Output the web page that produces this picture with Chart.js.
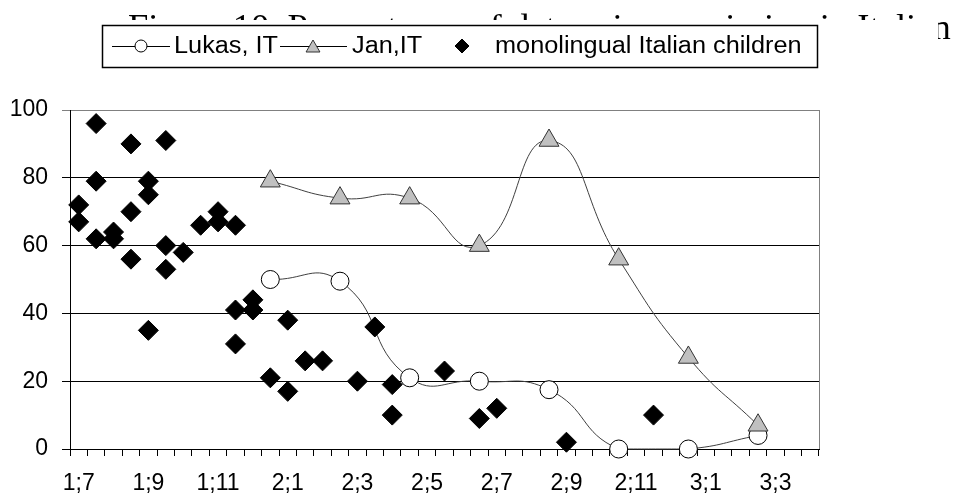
<!DOCTYPE html>
<html>
<head>
<meta charset="utf-8">
<script src="https://cdn.jsdelivr.net/npm/chart.js@4.4.0/dist/chart.umd.min.js"></script>
<style>
  html, body { margin: 0; padding: 0; background: #fff; }
  #wrap { width: 953px; height: 495px; position: relative; }
</style>
</head>
<body>
<div id="wrap"><canvas id="chart"></canvas></div>
<script>
// age categories, half-month steps (years;months)
const ageLabels = ['1;7', '1;7.5', '1;8', '1;8.5', '1;9', '1;9.5', '1;10', '1;10.5', '1;11', '1;11.5',
    '2;0', '2;0.5', '2;1', '2;1.5', '2;2', '2;2.5', '2;3', '2;3.5', '2;4', '2;4.5',
    '2;5', '2;5.5', '2;6', '2;6.5', '2;7', '2;7.5', '2;8', '2;8.5', '2;9', '2;9.5',
    '2;10', '2;10.5', '2;11', '2;11.5', '3;0', '3;0.5', '3;1', '3;1.5', '3;2', '3;2.5',
    '3;3', '3;3.5', '3;4'];

const titleText = 'Figure 10. Percentages of determiner omission in Italian';

const lukasAges = ['2;0.5', '2;2.5', '2;4.5', '2;6.5', '2;8.5', '2;10.5', '3;0.5', '3;2.5'];
const lukasPct = [50, 49.5, 21, 20, 17.5, 0, 0, 4];

const janAges = ['2;0.5', '2;2.5', '2;4.5', '2;6.5', '2;8.5', '2;10.5', '3;0.5', '3;2.5'];
const janPct = [79, 74, 74, 60, 91, 56, 27, 7];

const monoAges = ['1;7', '1;7', '1;7.5', '1;7.5', '1;7.5', '1;8', '1;8', '1;8.5', '1;8.5', '1;8.5',
    '1;9', '1;9', '1;9', '1;9.5', '1;9.5', '1;9.5', '1;10', '1;10.5', '1;11', '1;11',
    '1;11.5', '1;11.5', '1;11.5', '2;0', '2;0', '2;0.5', '2;1', '2;1', '2;1.5', '2;2',
    '2;3', '2;3.5', '2;4', '2;4', '2;5.5', '2;6.5', '2;7', '2;9', '2;11.5'];
const monoPct = [72, 67, 96, 79, 62, 64, 62, 90, 70, 56,
    79, 75, 35, 91, 60, 53, 58, 66, 70, 67,
    66, 41, 31, 44, 41, 21, 38, 17, 26, 26,
    20, 36, 19, 10, 23, 9, 12, 2, 10];

let toPoints = function (xs, ys) {
    let pts = [];
    for (let i = 0; i < xs.length; i++) {
        pts.push({ x: xs[i], y: ys[i] });
    }
    return pts;
}

// title behind the chart object, then the white chart background on top of it
const backdrop = {
    id: 'backdrop',
    beforeDraw(chart) {
        let ctx = chart.ctx;
        ctx.save();
        ctx.fillStyle = '#fff';
        ctx.fillRect(0, 0, chart.width, chart.height);
        ctx.fillStyle = '#000';
        ctx.font = '36.6px "Liberation Serif", "Times New Roman", serif';
        ctx.textBaseline = 'alphabetic';
        ctx.textAlign = 'left';
        ctx.fillText(titleText, 128, 39);
        ctx.fillStyle = '#fff';
        ctx.fillRect(0, 20, 938, chart.height - 20);
        ctx.restore();
    },
    afterDraw(chart) {
        let ctx = chart.ctx;
        let a = chart.chartArea;
        ctx.save();
        // gray plot border on the right
        ctx.strokeStyle = '#808080';
        ctx.lineWidth = 1;
        ctx.beginPath();
        ctx.moveTo(Math.round(a.right) + 0.5, a.top);
        ctx.lineTo(Math.round(a.right) + 0.5, a.bottom);
        ctx.stroke();
        ctx.restore();
    }
};

// boxed legend with line-marker-line symbols
const boxLegend = {
    id: 'boxLegend',
    afterDraw(chart) {
        let ctx = chart.ctx;
        let ds = chart.data.datasets;
        ctx.save();
        ctx.fillStyle = '#fff';
        ctx.fillRect(102, 25, 715, 42);
        ctx.strokeStyle = '#000';
        ctx.lineWidth = 1.5;
        ctx.strokeRect(102.5, 25.5, 715, 42);

        let cy = 46;
        let items = [
            { ds: ds[0], mx: 141, line: [112, 170], tx: 174, r: 6 },
            { ds: ds[1], mx: 313, line: [280, 347], tx: 352, r: 8 },
            { ds: ds[2], mx: 462, line: null, tx: 495, r: 7 }
        ];
        items.forEach(it => {
            if (it.line) {
                ctx.strokeStyle = '#000';
                ctx.lineWidth = 1;
                ctx.beginPath();
                ctx.moveTo(it.line[0], cy + 0.5);
                ctx.lineTo(it.line[1], cy + 0.5);
                ctx.stroke();
            }
            ctx.fillStyle = it.ds.pointBackgroundColor;
            ctx.strokeStyle = it.ds.pointBorderColor;
            ctx.lineWidth = 1;
            let my = it.ds.pointStyle === 'triangle' ? cy + 2 : cy;
            Chart.helpers.drawPoint(ctx, { pointStyle: it.ds.pointStyle, rotation: 0, borderWidth: 1, radius: it.r }, it.mx, my);
            ctx.fillStyle = '#000';
            ctx.font = '23px "Liberation Sans", Arial, sans-serif';
            ctx.textBaseline = 'middle';
            ctx.save();
            ctx.translate(it.tx, cy + 1);
            ctx.scale(1.1, 1);
            ctx.fillText(it.ds.label, 0, 0);
            ctx.restore();
        });
        ctx.restore();
    }
};

const ctx = document.getElementById('chart');
const myChart = new Chart(ctx, {
    type: 'line',
    data: {
        labels: ageLabels,
        datasets: [
            {
                label: 'Lukas, IT',
                data: toPoints(lukasAges, lukasPct),
                borderColor: '#404040',
                borderWidth: 1,
                tension: 0.5,
                pointStyle: 'circle',
                pointRadius: 9,
                pointBackgroundColor: '#fff',
                pointBorderColor: '#000',
                pointBorderWidth: 1,
                clip: false,
                order: 2
            },
            {
                label: 'Jan,IT',
                data: toPoints(janAges, janPct),
                borderColor: '#404040',
                borderWidth: 1,
                tension: 0.5,
                pointStyle: 'triangle',
                pointRadius: 11.5,
                pointBackgroundColor: '#c0c0c0',
                pointBorderColor: '#333',
                pointBorderWidth: 1,
                clip: false,
                order: 1
            },
            {
                label: 'monolingual Italian children',
                data: toPoints(monoAges, monoPct),
                showLine: false,
                pointStyle: 'rectRot',
                pointRadius: 10,
                pointBackgroundColor: '#000',
                pointBorderColor: '#000',
                pointBorderWidth: 1,
                clip: false,
                order: 0
            }
        ]
    },
    options: {
        responsive: true,
        maintainAspectRatio: false,
        animation: false,
        events: [],
        layout: { padding: { left: 0, right: 134, top: 110, bottom: 0 } },
        plugins: {
            legend: { display: false },
            title: { display: false },
            tooltip: { enabled: false }
        },
        scales: {
            x: {
                type: 'category',
                offset: true,
                afterFit: s => { s.height = 46; },
                grid: {
                    offset: true,
                    drawOnChartArea: false,
                    drawTicks: true,
                    tickLength: 7,
                    color: '#000'
                },
                border: { color: '#000', width: 1 },
                ticks: {
                    autoSkip: false,
                    maxRotation: 0,
                    padding: 14,
                    color: '#000',
                    font: { family: '"Liberation Sans", Arial, sans-serif', size: 23 },
                    callback: function (value, index) {
                        return index % 4 === 0 ? this.getLabelForValue(value) : '';
                    }
                }
            },
            y: {
                min: 0,
                max: 100,
                afterFit: s => { s.width = 70; },
                grid: {
                    color: c => c.tick && c.tick.value === 100 ? '#808080' : '#000',
                    tickLength: 8,
                    lineWidth: 1
                },
                border: { color: '#000', width: 1 },
                ticks: {
                    stepSize: 20,
                    padding: 14,
                    color: '#000',
                    font: { family: '"Liberation Sans", Arial, sans-serif', size: 23 }
                }
            }
        }
    },
    plugins: [backdrop, boxLegend]
});
</script>
</body>
</html>
